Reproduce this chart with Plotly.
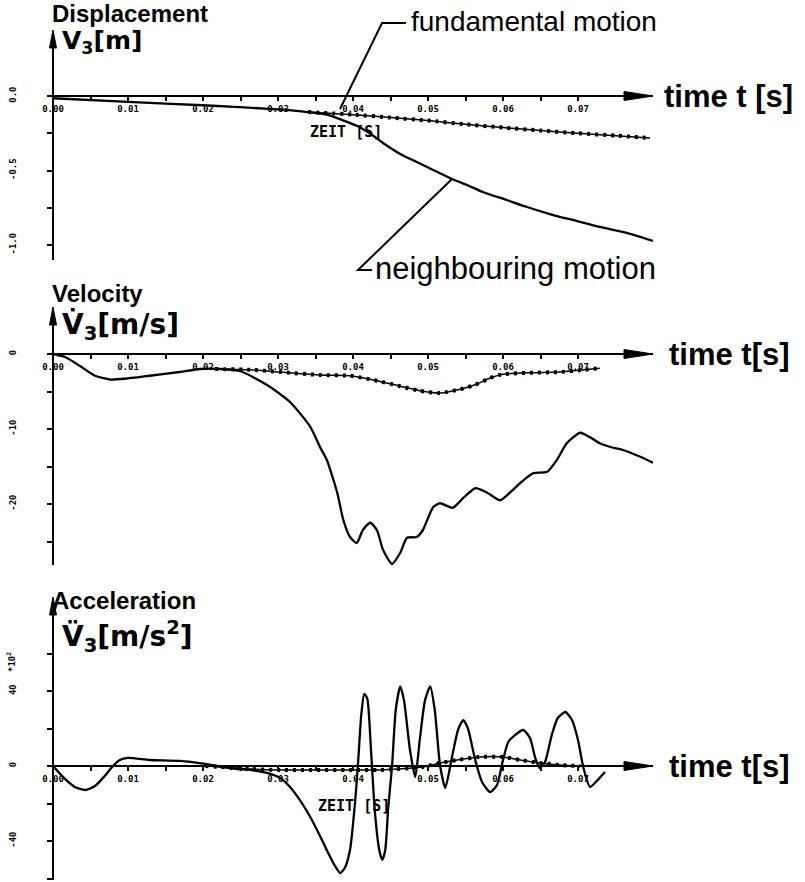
import plotly.graph_objects as go

W, H = 805, 882

# ---------------- data ----------------
disp_neigh_t = [0, 0.01, 0.02, 0.03, 0.034, 0.0365, 0.0385, 0.0405, 0.0425, 0.044, 0.0463, 0.0485,
                0.0507, 0.0532, 0.0552, 0.0573, 0.0605, 0.0632, 0.0667, 0.0693, 0.0729, 0.0765, 0.08]
disp_neigh_v = [-0.015, -0.04, -0.062, -0.09, -0.108, -0.125, -0.16, -0.2, -0.26, -0.315, -0.389, -0.443,
                -0.497, -0.557, -0.597, -0.644, -0.698, -0.745, -0.799, -0.832, -0.879, -0.919, -0.973]
disp_fund_t = [0.034, 0.04, 0.045, 0.05, 0.055, 0.06, 0.065, 0.07, 0.075, 0.0796]
disp_fund_v = [-0.108, -0.125, -0.145, -0.165, -0.19, -0.212, -0.232, -0.25, -0.266, -0.282]

vel_neigh_t = [0, 0.0016, 0.0036, 0.0056, 0.0076, 0.0096, 0.0129, 0.0169, 0.0196, 0.0223, 0.025, 0.0285,
               0.0316, 0.0343, 0.0356, 0.0365, 0.0379, 0.0387, 0.0396, 0.0405, 0.0413, 0.0423, 0.0432,
               0.044, 0.0452, 0.0463, 0.0472, 0.0485, 0.0493, 0.0507, 0.0516, 0.0533, 0.0547, 0.0563,
               0.0579, 0.0596, 0.0609, 0.0623, 0.064, 0.0659, 0.0672, 0.0685, 0.0703, 0.0716, 0.0729,
               0.0747, 0.076, 0.0783, 0.08]
vel_neigh_v = [0, -0.4, -1.6, -2.9, -3.4, -3.3, -2.9, -2.4, -2.0, -2.0, -2.3, -4.1,
               -6.4, -9.7, -12.4, -14.1, -18.5, -22.1, -24.4, -25.2, -23.5, -22.5, -23.5,
               -26.1, -28.0, -26.5, -24.5, -24.4, -23.5, -20.4, -19.9, -20.5, -19.2, -17.9,
               -18.5, -19.5, -18.5, -17.2, -15.9, -15.7, -14.1, -11.9, -10.5, -11.1, -11.9,
               -12.5, -12.8, -13.7, -14.5]
vel_fund_t = [0.0216, 0.0263, 0.0303, 0.0356, 0.0396, 0.0429, 0.0463, 0.0489, 0.0516, 0.0543, 0.0563,
              0.0583, 0.06, 0.0636, 0.0676, 0.0709, 0.0729]
vel_fund_v = [-2.0, -2.1, -2.4, -2.8, -2.9, -3.5, -4.3, -4.9, -5.2, -4.7, -4.1,
              -3.2, -2.7, -2.5, -2.4, -2.1, -1.9]

acc_neigh_t = [0, 0.0016, 0.0029, 0.0043, 0.0056, 0.0069, 0.008, 0.0089, 0.01, 0.0129, 0.0169, 0.0203,
               0.0236, 0.0263, 0.0285, 0.0303, 0.0316, 0.0329, 0.0343, 0.0356, 0.0365, 0.0376, 0.0383,
               0.0389, 0.0396, 0.0403, 0.0407, 0.0411, 0.0415, 0.0419, 0.0424, 0.0429, 0.0435, 0.0439,
               0.0443, 0.0447, 0.0452, 0.0457, 0.0463, 0.0468, 0.0476, 0.0483, 0.0489, 0.0496, 0.0503,
               0.0509, 0.0516, 0.0523, 0.0532, 0.054, 0.0547, 0.0553, 0.0563, 0.0572, 0.0583, 0.0592,
               0.06, 0.0607, 0.0616, 0.0627, 0.0636, 0.0643, 0.0649, 0.0656, 0.0665, 0.0673, 0.0683,
               0.0692, 0.07, 0.0707, 0.0716, 0.0725, 0.0736]
acc_neigh_v = [0, -6.9, -11.2, -12.8, -10.7, -5.3, 0, 3.2, 4.3, 3.2, 2.7, 1.1,
               -1.1, -2.1, -3.7, -6.4, -11.2, -18.1, -27.2, -37.3, -44.8, -53.3, -57.1,
               -54.4, -44.8, -18.1, 3.2, 27.2, 38.5, 36.0, 8.5, -23.5, -44.8, -50.1,
               -44.8, -21.9, -0.5, 29.9, 42.5, 35.0, 8.5, -5.9, 13.9, 35.0, 42.5,
               29.9, 0.5, -11.7, 4.8, 19.2, 24.5, 20.3, 3.2, -8.5, -13.9, -10.1,
               3.2, 12.8, 16.5, 19.2, 14.9, 4.3, -1.1, 2.1, 16.5, 25.6, 28.8,
               24.5, 13.9, -0.5, -11.2, -8.0, -3.2]
acc_fund_t = [0.0203, 0.0263, 0.0303, 0.0403, 0.0436, 0.0493, 0.0516, 0.0539, 0.0569, 0.06, 0.0623,
              0.0649, 0.0676, 0.0703]
acc_fund_v = [0, -1.6, -2.1, -2.1, -2.1, -0.5, 1.6, 3.2, 4.8, 4.8, 3.2, 1.6, 0.5, 0]

x_tickvals = [0, 0.005, 0.01, 0.015, 0.02, 0.025, 0.03, 0.035, 0.04, 0.045, 0.05, 0.055, 0.06, 0.065, 0.07]
x_ticktext = ["0.00", "", "0.01", "", "0.02", "", "0.03", "", "0.04", "", "0.05", "", "0.06", "", "0.07"]
disp_tickvals = [0, -0.25, -0.5, -0.75, -1.0]
disp_ticktext = ["0.0", "", "-0.5", "", "-1.0"]
vel_tickvals = [0, -5, -10, -15, -20, -25]
vel_ticktext = ["0", "", "-10", "", "-20", ""]
acc_tickvals = [60, 40, 20, 0, -20, -40, -60]
acc_ticktext = ["", "40", "", "0", "", "-40", ""]


def fx(p):
    return p / W


def fy(p):
    return 1 - p / H


# panels: zero pixel, px per unit, top px, bottom px, arrow tip px
panels = [
    dict(zero=96, scale=149.0, top=60, bot=260, tip=30),
    dict(zero=354, scale=7.5, top=336, bot=565, tip=307),
    dict(zero=766, scale=1.875, top=641, bot=880, tip=597),
]

fig = go.Figure()

series = [
    (disp_neigh_t, disp_neigh_v, disp_fund_t, disp_fund_v),
    (vel_neigh_t, vel_neigh_v, vel_fund_t, vel_fund_v),
    (acc_neigh_t, acc_neigh_v, acc_fund_t, acc_fund_v),
]

for i, (nt, nv, ft, fv) in enumerate(series):
    xa = "x" if i == 0 else f"x{i+1}"
    ya = "y" if i == 0 else f"y{i+1}"
    fig.add_trace(go.Scatter(x=ft, y=fv, mode="lines", xaxis=xa, yaxis=ya, showlegend=False,
                             line=dict(color="black", width=1.5, shape="spline", smoothing=0.6)))
    fig.add_trace(go.Scatter(x=ft, y=fv, mode="lines", xaxis=xa, yaxis=ya, showlegend=False,
                             line=dict(color="black", width=4, dash="3px,5px", shape="spline", smoothing=0.6)))
    fig.add_trace(go.Scatter(x=nt, y=nv, mode="lines", xaxis=xa, yaxis=ya, showlegend=False,
                             line=dict(color="black", width=2.3, shape="spline", smoothing=0.6)))

tickfont = dict(family="DejaVu Sans Mono", size=9, color="black", weight="bold")
ytv = [(disp_tickvals, disp_ticktext), (vel_tickvals, vel_ticktext), (acc_tickvals, acc_ticktext)]

layout_axes = {}
for i, p in enumerate(panels):
    xk = "xaxis" if i == 0 else f"xaxis{i+1}"
    yk = "yaxis" if i == 0 else f"yaxis{i+1}"
    layout_axes[xk] = dict(domain=[fx(53), fx(653)], range=[0, 0.08], anchor="free", position=fy(p["zero"]),
                           showline=True, linecolor="black", linewidth=2, ticks="outside", ticklen=4,
                           tickwidth=2, tickcolor="black", tickmode="array", tickvals=x_tickvals,
                           ticktext=x_ticktext, tickfont=tickfont, showgrid=False, zeroline=False,
                           ticklabelstandoff=0, automargin=False)
    vtop = (p["zero"] - p["top"]) / p["scale"]
    vbot = (p["zero"] - p["bot"]) / p["scale"]
    layout_axes[yk] = dict(domain=[fy(p["bot"]), fy(p["top"])], range=[vbot, vtop], anchor="free",
                           position=fx(53), showline=True, linecolor="black", linewidth=2,
                           ticks="outside", ticklen=5, tickwidth=2, tickcolor="black", tickmode="array",
                           tickvals=ytv[i][0], ticktext=ytv[i][1], tickfont=tickfont, tickangle=-90,
                           showgrid=False, zeroline=False, ticklabelstandoff=27, automargin=False)

shapes = []


def path_shape(pts, fill=False, width=2):
    d = "M " + " L ".join(f"{fx(x):.5f},{fy(y):.5f}" for x, y in pts)
    if fill:
        d += " Z"
    return dict(type="path", path=d, xref="paper", yref="paper",
                line=dict(color="black", width=width if not fill else 1),
                fillcolor="black" if fill else None)


# axis arrowheads
for p in panels:
    z = p["zero"]
    tip = p["tip"]
    shapes.append(path_shape([(624, z - 4.5), (653, z), (624, z + 4.5)], fill=True))
    shapes.append(path_shape([(53, p["top"] + 2), (53, tip + 10)], width=2))
    shapes.append(path_shape([(49.5, tip + 18), (53, tip), (56.5, tip + 18)], fill=True))

# leader lines
shapes.append(path_shape([(406, 23), (382, 23), (340, 109)], width=2))
shapes.append(path_shape([(452, 179), (358, 270), (372, 270)], width=2))

fund_f = dict(family="Liberation Sans, Arial, sans-serif", size=28, color="black")
neigh_f = dict(family="Liberation Sans, Arial, sans-serif", size=31, color="black")
title_f = dict(family="Liberation Sans, Arial, sans-serif", size=24, color="black", weight="bold")
time_f = dict(family="Liberation Sans, Arial, sans-serif", size=31, color="black", weight="bold")
lab_f1 = dict(family="DejaVu Sans, sans-serif", size=25, color="black", weight="bold")
lab_f2 = dict(family="DejaVu Sans, sans-serif", size=28, color="black", weight="bold")
small = dict(family="DejaVu Sans Mono", size=15, color="black", weight="bold")


def ann(x, y, text, font, xanchor="left", angle=0):
    return dict(x=fx(x), y=fy(y), xref="paper", yref="paper", text=text, showarrow=False,
                xanchor=xanchor, yanchor="middle", font=font, textangle=angle)


annotations = [
    ann(50, 14, "Displacement", title_f),
    ann(60, 42, "V<sub>3</sub>[m]", lab_f1),
    ann(409, 21, "fundamental motion", fund_f),
    ann(662, 96, "time t [s]", time_f),
    ann(373, 269, "neighbouring motion", neigh_f),
    ann(50, 294, "Velocity", title_f),
    ann(60, 326, "V\u0307<sub>3</sub>[m/s]", lab_f2),
    ann(667, 354, "time t[s]", time_f),
    ann(50, 600, "Acceleration", title_f),
    ann(60, 636, "V\u0308<sub>3</sub>[m/s<sup>2</sup>]", lab_f2),
    ann(667, 766, "time t[s]", time_f),
    ann(308, 132, "ZEIT [S]", small),
    ann(316, 806, "ZEIT [S]", small),
    dict(x=fx(11), y=fy(662), xref="paper", yref="paper", text="*10<sup>2</sup>", showarrow=False,
         xanchor="center", yanchor="middle", textangle=-90, font=tickfont),
]

fig.update_layout(width=W, height=H, margin=dict(l=0, r=0, t=0, b=0), paper_bgcolor="white",
                  plot_bgcolor="white", showlegend=False, shapes=shapes, annotations=annotations,
                  **layout_axes)

fig.write_html("out.html", config={"displayModeBar": False},
               post_script="document.body.style.margin='0px';document.body.style.overflow='hidden';")
